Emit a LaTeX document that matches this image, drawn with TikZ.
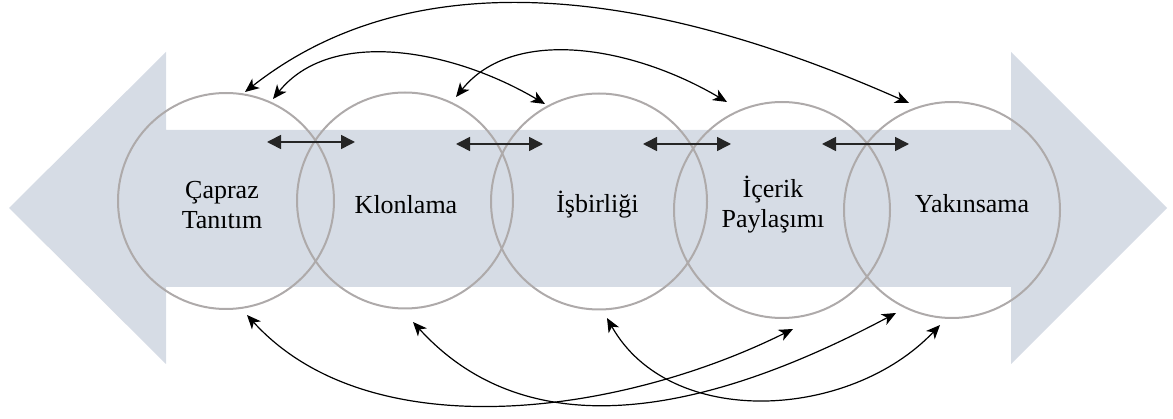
\documentclass[tikz,border=0pt]{standalone}
\usepackage{fontspec}
\setmainfont{Liberation Serif}
\usetikzlibrary{arrows.meta,calc}
\definecolor{bandfill}{HTML}{D6DCE5}
\definecolor{ringgray}{HTML}{AEAAAA}
\begin{document}
\begin{tikzpicture}[x=1pt,y=1pt,
  ring/.style={circle,draw=ringgray,line width=2pt,minimum size=216pt,inner sep=0pt},
  lbl/.style={font=\fontsize{26}{30}\selectfont,align=center,inner sep=0pt},
  flowarrow/.style={line width=1.6pt,draw=black!85,{Triangle[length=14pt,width=14pt]}-{Triangle[length=14pt,width=14pt]}},
  linkarrow/.style={line width=1.2pt,{Stealth[length=14pt,width=12pt,inset=4pt]}-{Stealth[length=14pt,width=12pt,inset=4pt]}}]
\useasboundingbox (0,0) rectangle (1173,-419);
% background double arrow
\fill[bandfill] (9,-208) -- (166,-52) -- (166,-130) -- (1011,-130) -- (1011,-52)
  -- (1167,-208) -- (1011,-364) -- (1011,-287) -- (166,-287) -- (166,-364) -- cycle;
% circles
\node[ring] (c1) at (226,-201) {};
\node[ring] (c2) at (405,-200.5) {};
\node[ring] (c3) at (599,-201.5) {};
\node[ring] (c4) at (782,-210) {};
\node[ring] (c5) at (952,-210) {};
% labels
\node[lbl] (l1) at (222,-205) {Çapraz\\Tanıtım};
\node[lbl,anchor=base] (l2) at (406,-214) {Klonlama};
\node[lbl,anchor=base] (l3) at (597.5,-213) {İşbirliği};
\node[lbl] (l4) at (773,-205) {İçerik\\Paylaşımı};
\node[lbl,anchor=base] (l5) at (972,-213) {Yakınsama};
% connector end points
\coordinate (h1s) at ($(c1.center)+(41,59)$);
\coordinate (h1e) at ($(c2.center)+(-50,58.5)$);
\coordinate (h2s) at ($(c2.center)+(51,56.5)$);
\coordinate (h2e) at ($(c3.center)+(-56,57.5)$);
\coordinate (h3s) at ($(c3.center)+(44,57.5)$);
\coordinate (h3e) at ($(c4.center)+(-51,66)$);
\coordinate (h4s) at ($(c4.center)+(40,66)$);
\coordinate (h4e) at ($(c5.center)+(-43,66)$);
\coordinate (t1s) at ($(c1.center)+(19,109)$);
\coordinate (t1e) at ($(c5.center)+(-43,107)$);
\coordinate (t2s) at ($(c1.center)+(47,102)$);
\coordinate (t2e) at ($(c3.center)+(-54,97.5)$);
\coordinate (t3s) at ($(c2.center)+(51,103.5)$);
\coordinate (t3e) at ($(c4.center)+(-55,108)$);
\coordinate (b1s) at ($(c1.center)+(21,-114)$);
\coordinate (b1e) at ($(c4.center)+(11,-119)$);
\coordinate (b2s) at ($(c2.center)+(8,-121.5)$);
\coordinate (b2e) at ($(c5.center)+(-56,-103)$);
\coordinate (b3s) at ($(c3.center)+(8,-116.5)$);
\coordinate (b3e) at ($(c5.center)+(-12,-115)$);
% straight double arrows between neighbours
\draw[flowarrow] (h1s) -- (h1e);
\draw[flowarrow] (h2s) -- (h2e);
\draw[flowarrow] (h3s) -- (h3e);
\draw[flowarrow] (h4s) -- (h4e);
% curved links above
\draw[linkarrow] (t1s) .. controls +(155,122) and +(-289,128) .. (t1e);
\draw[linkarrow] (t2s) .. controls +(57,71) and +(-95,56) .. (t2e);
\draw[linkarrow] (t3s) .. controls +(57,71) and +(-95,56) .. (t3e);
% curved links below
\draw[linkarrow] (b1s) .. controls +(123,-135) and +(-173,-86) .. (b1e);
\draw[linkarrow] (b2s) .. controls +(123,-135) and +(-173,-92) .. (b2e);
\draw[linkarrow] (b3s) .. controls +(63,-112) and +(-90,-95) .. (b3e);
\end{tikzpicture}
\end{document}
